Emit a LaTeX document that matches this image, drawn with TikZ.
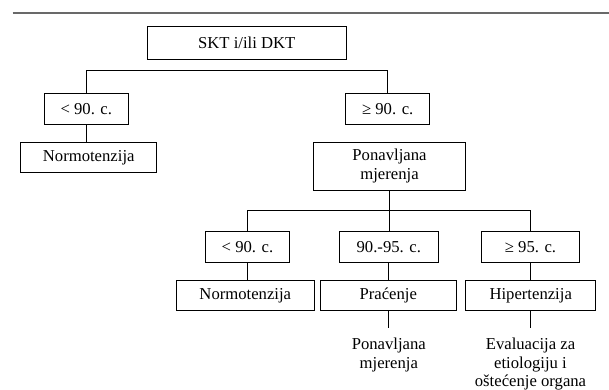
\documentclass[tikz,border=0pt]{standalone}
\usepackage{fontspec}
\setmainfont{Liberation Serif}
\usetikzlibrary{positioning}
\definecolor{bpgray}{RGB}{105,105,105}
\tikzset{
  bpbox/.style={draw, line width=.65pt, align=center, inner sep=2pt, minimum height=23pt},
  bpnote/.style={align=center, anchor=north, inner sep=0pt, inner ysep=7.5pt},
  bpline/.style={line width=.65pt}
}

\begin{document}
\begin{tikzpicture}[x=.75pt, y=-.75pt, font=\fontsize{12.5}{14}\selectfont]
  \useasboundingbox (0,0) rectangle (609,389);
  \draw[bpgray, line width=1.5pt] (12.7,13) -- (609,13);
  % first split
  \node[bpbox, minimum width=148.7pt, minimum height=24.5pt] (skt) at (246.8,43) {SKT i/ili DKT};
  \node[bpbox, minimum width=63.5pt] (lt90) at (86.3,109.2) {< 90. c.};
  \node[bpbox, minimum width=63pt] (ge90) at (387.7,109.2) {≥ 90. c.};
  \node[bpbox, minimum width=102pt] (norm1) at (88.7,157.5) {Normotenzija};
  \node[bpbox, minimum width=114.3pt, minimum height=35.8pt] (pon) at (389.5,166.2) {Ponavljana\\mjerenja};
  % second split
  \node[bpbox, minimum width=62.7pt] (lt90b) at (247.5,247) {< 90. c.};
  \node[bpbox, minimum width=74.3pt] (mid) at (388.8,247) {90.-95. c.};
  \node[bpbox, minimum width=73.2pt] (ge95) at (530.5,247) {≥ 95. c.};
  \node[bpbox, minimum width=103pt] (norm2) at (245.3,295.5) {Normotenzija};
  \node[bpbox, minimum width=102.5pt] (prac) at (388.3,295.5) {Praćenje};
  \node[bpbox, minimum width=97.5pt] (hip) at (530.7,295.5) {Hipertenzija};
  \node[bpnote] (pon2) at (388.8,327.7) {Ponavljana\\mjerenja};
  \node[bpnote] (eval) at (530.5,327.7) {Evaluacija za\\etiologiju i\\oštećenje organa};

  \draw[bpline] (lt90.north) -- ++(0,-23.3) -| (ge90.north);
  \draw[bpline] (lt90.south) -- (lt90.south |- norm1.north);
  \draw[bpline] (pon.south) -- (pon.south |- mid.north);
  \draw[bpline] (lt90b.north) -- ++(0,-20.7) -| (ge95.north);
  \draw[bpline] (lt90b.south) -- (lt90b.south |- norm2.north);
  \draw[bpline] (mid.south) -- (mid.south |- prac.north);
  \draw[bpline] (ge95.south) -- (ge95.south |- hip.north);
  \draw[bpline] (prac.south) -- (prac.south |- pon2.north);
  \draw[bpline] (hip.south) -- (hip.south |- eval.north);
\end{tikzpicture}
\end{document}
